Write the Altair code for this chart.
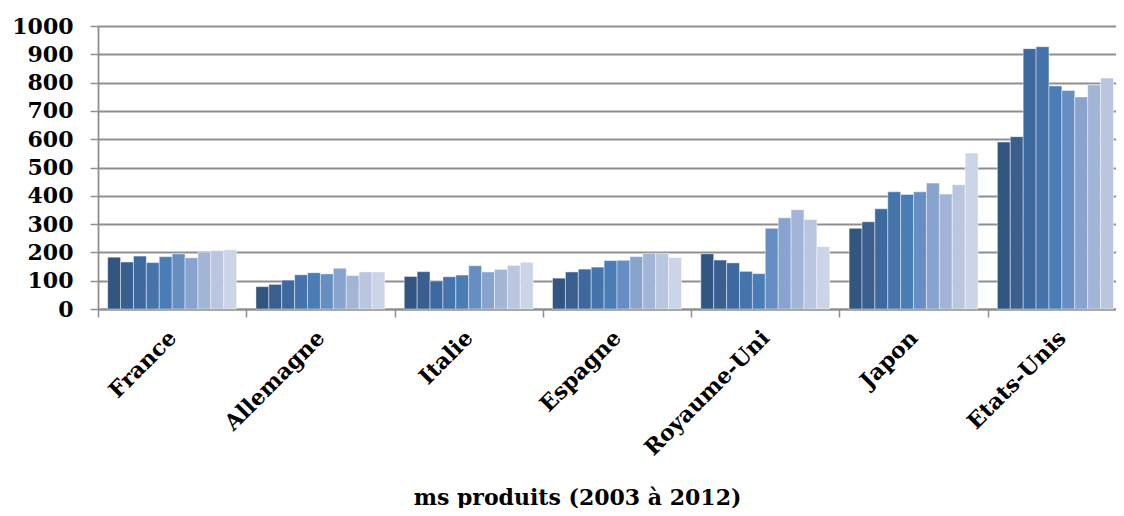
import altair as alt
import pandas as pd

countries = ["France", "Allemagne", "Italie", "Espagne", "Royaume-Uni", "Japon", "Etats-Unis"]
years = ["2003", "2004", "2005", "2006", "2007", "2008", "2009", "2010", "2011", "2012"]

france = [183, 166, 187, 164, 185, 195, 181, 201, 206, 209]
allemagne = [79, 87, 102, 121, 128, 124, 144, 118, 131, 131]
italie = [115, 132, 99, 114, 120, 153, 131, 140, 154, 165]
espagne = [109, 131, 141, 148, 171, 172, 185, 197, 197, 182]
royaume_uni = [195, 173, 163, 133, 125, 285, 322, 351, 316, 220]
japon = [285, 308, 354, 414, 405, 414, 445, 406, 439, 551]
etats_unis = [590, 609, 920, 927, 788, 772, 749, 792, 816]  # 2012 absent

colors = ["#325680", "#3a5f8f", "#3e699f", "#4673a9", "#4a7cb6",
          "#668ec3", "#88a3cd", "#a3b5d6", "#bac6e0", "#ccd5e7"]

series = [france, allemagne, italie, espagne, royaume_uni, japon, etats_unis]
rows = []
for c, vals in zip(countries, series):
    for y, v in zip(years, vals):
        rows.append({"pays": c, "annee": y, "valeur": v})
df = pd.DataFrame(rows)

FONT = "DejaVu Serif"
GRID = "#8f8f8f"

chart = alt.Chart(df).mark_bar(
    stroke="#ffffff", strokeWidth=0.8, strokeOpacity=0.55
).encode(
    x=alt.X("pays:N", sort=countries,
            scale=alt.Scale(range=[0, 1038], paddingInner=0, paddingOuter=0),
            axis=alt.Axis(
                title="ms produits (2003 à 2012)",
                titleFont=FONT, titleFontSize=22, titleFontWeight="bold", titleColor="black",
                titleX=479, titleY=195, titleAlign="center", titleBaseline="alphabetic",
                titleAnchor="start",
                labelAngle=315, labelAlign="right", labelBaseline="middle",
                labelFont=FONT, labelFontSize=22, labelFontWeight="bold", labelColor="black",
                labelPadding=17, labelOverlap=False, labelBound=False,
                tickBand="extent", tickSize=8, tickColor=GRID, tickWidth=1.5,
                domainColor=GRID, domainWidth=1.8, grid=False)),
    xOffset=alt.XOffset("annee:N", sort=years,
                        scale=alt.Scale(paddingInner=0, paddingOuter=0.75)),
    y=alt.Y("valeur:Q",
            scale=alt.Scale(domain=[0, 1000], nice=False),
            axis=alt.Axis(
                title=None, values=list(range(0, 1001, 100)), format="d",
                labelFont=FONT, labelFontSize=22, labelFontWeight="bold", labelColor="black",
                labelPadding=17, tickSize=8, tickColor=GRID, tickWidth=1.5,
                domainColor=GRID, domainWidth=1.8,
                grid=True, gridColor=GRID, gridWidth=1.8)),
    color=alt.Color("annee:N", sort=years,
                    scale=alt.Scale(domain=years, range=colors), legend=None),
).properties(
    width=1018, height=283,
    padding={"left": 90, "top": 18, "right": 0, "bottom": 199},
    autosize=alt.AutoSizeParams(type="none"),
).configure_view(stroke=None)

chart.save("out.html", embed_options={"renderer": "svg", "actions": False})
